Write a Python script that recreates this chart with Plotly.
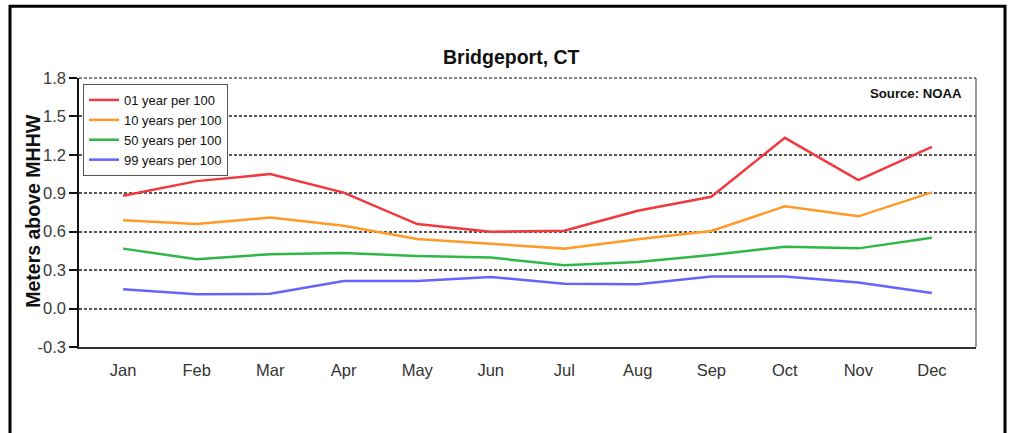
import plotly.graph_objects as go

months = ["Jan", "Feb", "Mar", "Apr", "May", "Jun",
          "Jul", "Aug", "Sep", "Oct", "Nov", "Dec"]

series_names = ["01 year per 100", "10 years per 100",
                "50 years per 100", "99 years per 100"]

# Water level above MHHW (m) for each exceedance probability
yr01 = [0.88, 0.995, 1.05, 0.905, 0.66, 0.60, 0.608, 0.764, 0.873, 1.333, 1.003, 1.263]
yr10 = [0.69, 0.66, 0.71, 0.647, 0.543, 0.504, 0.468, 0.541, 0.606, 0.798, 0.72, 0.907]
yr50 = [0.468, 0.385, 0.424, 0.434, 0.41, 0.398, 0.338, 0.364, 0.418, 0.483, 0.47, 0.553]
yr99 = [0.151, 0.112, 0.115, 0.216, 0.216, 0.247, 0.193, 0.19, 0.25, 0.25, 0.203, 0.122]

colors = ["#f0383f", "#ff9a26", "#2fb845", "#6464ff"]

y_ticks = [1.8, 1.5, 1.2, 0.9, 0.6, 0.3, 0.0, -0.3]
y_tick_text = ["1.8", "1.5", "1.2", "0.9", "0.6", "0.3", "0.0", "-0.3"]

FONT = "Liberation Sans, Arial, sans-serif"

fig = go.Figure()
for name, vals, col in zip(series_names, [yr01, yr10, yr50, yr99], colors):
    fig.add_trace(go.Scatter(
        x=list(range(len(months))), y=vals, name=name, mode="lines",
        line=dict(color=col, width=2.5),
    ))

W, H = 1011, 433
ml, mr, mt, mb = 79, 35, 78, 85.5
pw, ph = W - ml - mr, H - mt - mb


def px_x(px):
    return (px - ml) / pw


def px_y(py):
    return (H - mb - py) / ph


fig.update_layout(
    width=W, height=H,
    margin=dict(l=ml, r=mr, t=mt, b=mb),
    paper_bgcolor="white", plot_bgcolor="white",
    font=dict(family=FONT, color="#222"),
    showlegend=True,
    legend=dict(
        x=px_x(83), y=px_y(84), xanchor="left", yanchor="top",
        bgcolor="white", bordercolor="#555", borderwidth=1,
        font=dict(family=FONT, size=13, color="#111"),
        tracegroupgap=0, itemwidth=30,
    ),
    xaxis=dict(
        range=[-0.6, 11.6],
        tickmode="array", tickvals=list(range(len(months))), ticktext=months,
        tickfont=dict(size=16.5, color="#333"),
        showgrid=False, zeroline=False,
        showline=True, linecolor="#333", linewidth=1.5,
        ticks="", ticklabelstandoff=7,
    ),
    yaxis=dict(
        range=[-0.3, 1.8],
        tickmode="array", tickvals=y_ticks, ticktext=y_tick_text,
        tickfont=dict(size=16.5, color="#3a3a3a"),
        showgrid=True, gridcolor="#555", gridwidth=1.5, griddash="3px,2px",
        zeroline=False,
        showline=True, linecolor="#111", linewidth=1.5,
        ticks="outside", ticklen=8, tickcolor="#111", tickwidth=1.5,
    ),
    annotations=[
        dict(text="<b>Bridgeport, CT</b>", xref="paper", yref="paper",
             x=px_x(511), y=px_y(57), xanchor="center", yanchor="middle",
             showarrow=False, font=dict(family=FONT, size=19.5, color="#111")),
        dict(text="<b>Source: NOAA</b>", xref="paper", yref="paper",
             x=px_x(964), y=px_y(94), xanchor="right", yanchor="middle",
             showarrow=False, font=dict(family=FONT, size=13.2, color="#111")),
        # y-axis title
        dict(text="<b>Meters above MHHW</b>", xref="paper", yref="paper",
             x=px_x(33), y=px_y(212), xanchor="center", yanchor="middle",
             textangle=-90, showarrow=False,
             font=dict(family=FONT, size=19.5, color="#111")),
    ],
    shapes=[
        # right edge of the plotting area
        dict(type="line", xref="paper", yref="paper",
             x0=1, x1=1, y0=0, y1=1, line=dict(color="#777", width=1.5)),
        # top edge drawn as a dashed rule
        dict(type="line", xref="paper", yref="paper",
             x0=0, x1=1, y0=1, y1=1, line=dict(color="#555", width=1.5, dash="3px,2px")),
        # outer frame
        dict(type="rect", xref="paper", yref="paper",
             x0=px_x(10), x1=px_x(1005), y0=px_y(445), y1=px_y(6),
             line=dict(color="black", width=3), layer="below"),
    ],
)

fig.write_html("out.html")
